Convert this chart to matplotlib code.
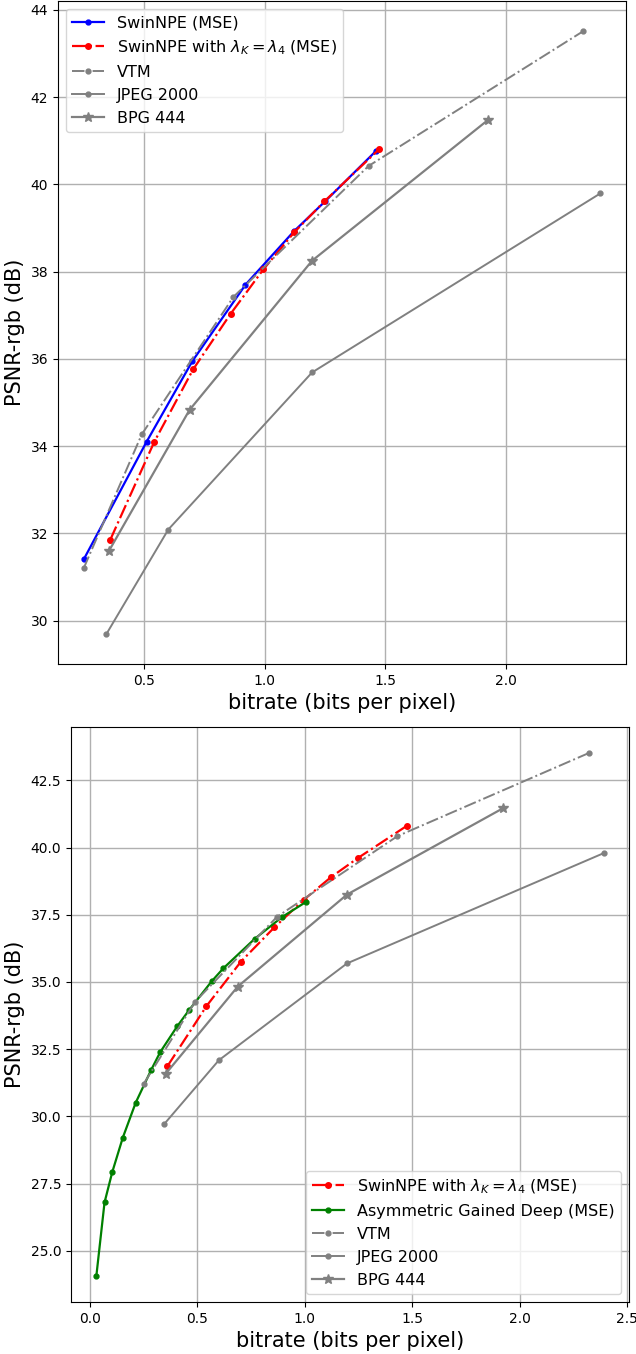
import matplotlib
matplotlib.use("Agg")
import matplotlib.pyplot as plt

# ---- data (bitrate bpp, PSNR-rgb dB) ----
swin_x = [0.25, 0.51, 0.70, 0.92, 1.12, 1.25, 1.46]
swin_y = [31.41, 34.10, 35.95, 37.70, 38.92, 39.61, 40.76]

swin4_x = [0.36, 0.542, 0.703, 0.858, 0.994, 1.122, 1.247, 1.475]
swin4_y = [31.86, 34.10, 35.76, 37.03, 38.05, 38.90, 39.61, 40.81]

vtm_x = [0.25, 0.49, 0.87, 1.43, 2.32]
vtm_y = [31.21, 34.27, 37.42, 40.42, 43.51]

jpeg_x = [0.344, 0.60, 1.196, 2.39]
jpeg_y = [29.70, 32.09, 35.69, 39.79]

bpg_x = [0.353, 0.688, 1.196, 1.924]
bpg_y = [31.59, 34.83, 38.25, 41.47]

agd_x = [0.03, 0.068, 0.104, 0.153, 0.213, 0.285, 0.327, 0.406, 0.462, 0.566, 0.621, 0.766, 0.893, 1.006]
agd_y = [24.07, 26.80, 27.93, 29.21, 30.51, 31.73, 32.39, 33.35, 33.96, 35.02, 35.51, 36.60, 37.41, 37.98]

fig = plt.figure(figsize=(6.36, 13.54), dpi=100)
ax1 = fig.add_axes([58/636, 1 - 664/1354, (626-58)/636, (664-1)/1354])
ax2 = fig.add_axes([71/636, 1 - 1302/1354, (629-71)/636, (1302-727)/1354])

lab4 = r'SwinNPE with $\lambda_K = \lambda_4$ (MSE)'
LFS = 11.5
AFS = 15

# top plot
ax1.plot(swin_x, swin_y, '.-', color='blue', lw=1.6, ms=7, label='SwinNPE (MSE)')
ax1.plot(swin4_x, swin4_y, '.-.', color='red', lw=1.6, ms=8, label=lab4)
ax1.plot(vtm_x, vtm_y, '.-.', color='gray', lw=1.4, ms=7, label='VTM')
ax1.plot(jpeg_x, jpeg_y, '.-', color='gray', lw=1.4, ms=7, label='JPEG 2000')
ax1.plot(bpg_x, bpg_y, '*-', color='gray', lw=1.6, ms=7, label='BPG 444')
ax1.grid(True, color='#b0b0b0', lw=1.0)
ax1.set_xlabel('bitrate (bits per pixel)', fontsize=AFS)
ax1.set_ylabel('PSNR-rgb (dB)', fontsize=AFS)
ax1.tick_params(labelsize=10)
ax1.legend(loc='upper left', fontsize=LFS)

# bottom plot
ax2.plot(swin4_x, swin4_y, '.-.', color='red', lw=1.6, ms=8, label=lab4)
ax2.plot(agd_x, agd_y, '.-', color='green', lw=1.6, ms=7, label='Asymmetric Gained Deep (MSE)')
ax2.plot(vtm_x, vtm_y, '.-.', color='gray', lw=1.4, ms=7, label='VTM')
ax2.plot(jpeg_x, jpeg_y, '.-', color='gray', lw=1.4, ms=7, label='JPEG 2000')
ax2.plot(bpg_x, bpg_y, '*-', color='gray', lw=1.6, ms=7, label='BPG 444')
ax2.grid(True, color='#b0b0b0', lw=1.0)
ax2.set_xlabel('bitrate (bits per pixel)', fontsize=AFS)
ax2.set_ylabel('PSNR-rgb (dB)', fontsize=AFS)
ax2.tick_params(labelsize=10)
ax2.legend(loc='lower right', fontsize=LFS)

fig.savefig('out.png', dpi=100)
